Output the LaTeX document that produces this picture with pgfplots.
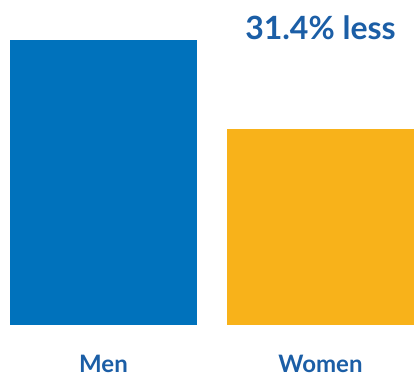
\documentclass[border=0pt]{standalone}
\usepackage{pgfplots}
\pgfplotsset{compat=1.18}
\usepackage{fontspec}
\setmainfont{Lato}
\definecolor{menblue}{HTML}{0072BC}
\definecolor{womenyellow}{HTML}{F8B21A}
\definecolor{txtblue}{HTML}{1B5EA6}
\begin{document}
\begin{tikzpicture}
\begin{axis}[
  scale only axis, width=414pt, height=378pt,
  at={(0,0)}, anchor=south west,
  xmin=-0.477, xmax=1.431,
  ymin=-18.6, ymax=114.04,
  hide axis,
  ybar, bar width=187pt, bar shift=0pt,
  clip=false,
]
\addplot[draw=none, fill=menblue] coordinates {(0,100)};
\addplot[draw=none, fill=womenyellow] coordinates {(1,68.6)};
\node[anchor=base, text=txtblue, font=\fontsize{32}{38}\selectfont\bfseries] at (axis cs:1,100.35) {31.4\% less};
\node[anchor=base, inner sep=0pt, text depth=0pt, text=txtblue, font=\fontsize{24}{28}\selectfont\bfseries] at (axis cs:0,-16.6) {Men};
\node[anchor=base, inner sep=0pt, text depth=0pt, text=txtblue, font=\fontsize{24}{28}\selectfont\bfseries] at (axis cs:1,-16.6) {Women};
\end{axis}
\pgfresetboundingbox
\useasboundingbox (0,0) rectangle (414pt,378pt);
\end{tikzpicture}
\end{document}
